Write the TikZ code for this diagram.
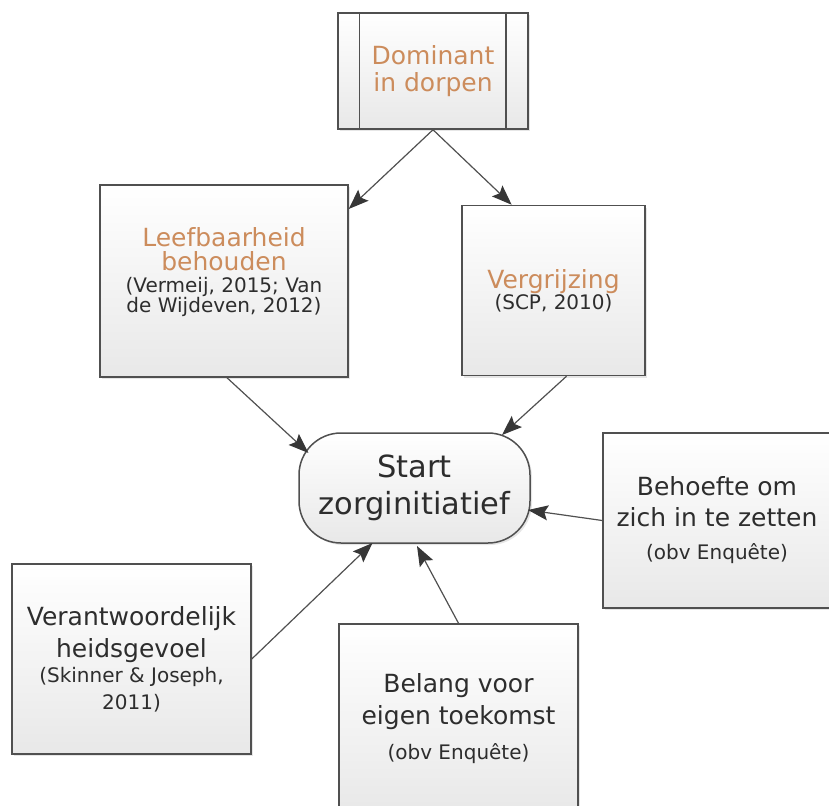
\documentclass[tikz,border=0pt]{standalone}
\usepackage{fontspec}
\setmainfont{DejaVu Sans}
\usetikzlibrary{arrows.meta, calc, shadows}
\definecolor{titlecol}{RGB}{204,140,92}
\definecolor{textcol}{RGB}{45,45,45}
\definecolor{linecol}{RGB}{80,80,80}
\definecolor{tipcol}{RGB}{55,55,55}
\newcommand{\kop}[1]{\textcolor{titlecol}{#1}}
\newcommand{\bron}[1]{{\fontsize{20}{22}\selectfont #1}}

\begin{document}
\begin{tikzpicture}[x=1pt, y=-1pt,
  procbox/.style={draw=linecol, line width=1.5pt, top color=white, bottom color=black!9,
    text=textcol, align=center, font=\fontsize{25}{27}\selectfont,
    drop shadow={shadow xshift=2pt, shadow yshift=-2pt, opacity=.2}},
  boxtext/.style={text=textcol, align=center, font=\fontsize{25}{27}\selectfont},
  startshape/.style={procbox, rounded corners=42pt, font=\fontsize{30.5}{37}\selectfont},
  link/.style={draw=linecol, line width=1.2pt, -{Stealth[length=20pt, width=15pt, inset=3.5pt, color=tipcol]}}]
\clip (0,0) rectangle (829,805);

\node[procbox, minimum width=190pt, minimum height=116pt] (dom) at (433,71)
  {\kop{Dominant}\\\kop{in dorpen}};
\draw[linecol, line width=1.5pt] ([xshift=22pt]dom.north west) -- ([xshift=22pt]dom.south west)
  ([xshift=-23pt]dom.north east) -- ([xshift=-23pt]dom.south east);

\node[procbox, minimum width=248pt, minimum height=192pt] (leef) at (224,281) {};
\node[boxtext] (leeftekst) at ([yshift=9pt]leef.center)
  {\kop{Leefbaarheid}\\[-3pt]\kop{behouden}\\[-5pt]\bron{(Vermeij, 2015; Van}\\[-7pt]\bron{de Wijdeven, 2012)}};
\node[procbox, minimum width=183pt, minimum height=170pt] (verg) at (553.5,290.5)
  {\kop{Vergrijzing}\\[-6pt]\bron{(SCP, 2010)}};

\node[startshape, minimum width=231pt, minimum height=110pt] (start) at (414.5,488)
  {Start\\zorginitiatief};

\node[procbox, minimum width=228pt, minimum height=175pt] (beh) at (717,520.5)
  {Behoefte om\\[4pt]zich in te zetten\\[6pt]\bron{(obv Enquête)}};
\node[procbox, minimum width=239pt, minimum height=190pt] (ver) at (131.5,659)
  {Verantwoordelijk\\[5pt]heidsgevoel\\[-2pt]\bron{(Skinner \& Joseph,}\\\bron{2011)}};
\node[procbox, minimum width=239pt, minimum height=190pt] (bel) at (458.5,719)
  {Belang voor\\[5pt]eigen toekomst\\[8pt]\bron{(obv Enquête)}};

% pijlen
\draw[link] (dom.south) -- (leef.30);
\draw[link] (dom.south) -- (verg.116);
\draw[link] ([xshift=3pt]leef.south) -- ($(start.center)+(-106,-35)$);
\draw[link] ([xshift=13pt]verg.south) -- ($(start.center)+(87.5,-53)$);
\draw[link] (beh.west) -- ($(start.center)+(113.5,22)$);
\draw[link] (ver.east) -- ($(start.center)+(-42,55)$);
\draw[link] (bel.north) -- ($(start.center)+(2.5,58)$);
\end{tikzpicture}
\end{document}
